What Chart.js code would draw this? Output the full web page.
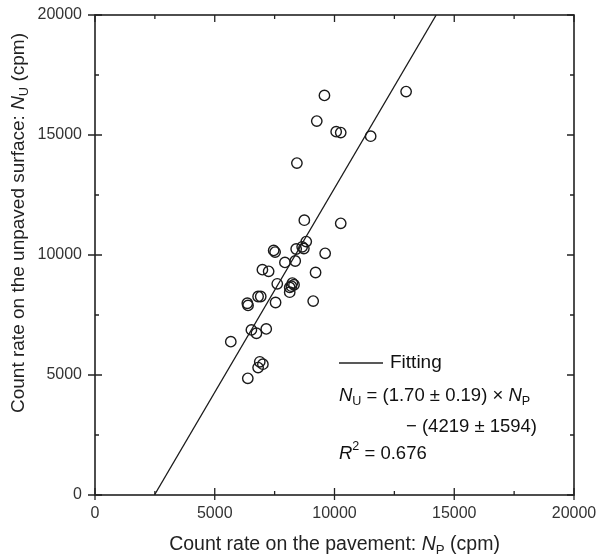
<!DOCTYPE html>
<html>
<head>
<meta charset="utf-8">
<script src="https://cdn.jsdelivr.net/npm/chart.js@4.4.1/dist/chart.umd.min.js"></script>
<style>
  html, body { margin: 0; padding: 0; background: #fff; }
  #wrap { width: 598px; height: 558px; }
</style>
</head>
<body>
<div id="wrap"><canvas id="chart" width="598" height="558"></canvas></div>
<script>
// Mediciones: tasa de conteo en pavimento (x) y en superficie sin pavimentar (y), cpm
const pavimento = [
    9580, 12990, 9260, 10070, 10260, 11510, 8430, 8740, 10260,
    8820, 8650, 8400, 8720, 7460, 7520, 9610, 7930, 8360,
    6990, 7250, 9210, 7610, 8240, 8310, 8130, 8130, 8200,
    6810, 6920, 6360, 6390, 7540, 9110, 6530, 6740, 7150,
    5670, 6880, 7010, 6810, 6380
];
const sinPavimentar = [
    16650, 16810, 15580, 15140, 15100, 14950, 13830, 11450, 11320,
    10560, 10340, 10250, 10270, 10190, 10120, 10070, 9690, 9750,
    9390, 9320, 9270, 8800, 8830, 8760, 8650, 8450, 8700,
    8270, 8270, 7990, 7900, 8020, 8080, 6880, 6740, 6920,
    6390, 5550, 5450, 5310, 4860
];

// Recta de ajuste: N_U = pendiente * N_P - intercepto
const pendiente = 1.70;
const intercepto = 4219;
const ejeMin = 0;
const ejeMax = 20000;
const pasoMayor = 5000;
const pasoMenor = 2500;

const FONT = '"Liberation Sans", Arial, Helvetica, sans-serif';

const puntos = pavimento.map((x, i) => ({ x: x, y: sinPavimentar[i] }));
const recta = [
    { x: (ejeMin + intercepto) / pendiente, y: ejeMin },
    { x: (ejeMax + intercepto) / pendiente, y: ejeMax }
];

// Dibuja una secuencia de fragmentos (cursiva, subíndice, superíndice)
function dibujarTexto(ctx, partes, x, y, size, align) {
    const fuente = (p, s) => (p.italic ? 'italic ' : '') + s + 'px ' + FONT;
    let total = 0;
    partes.forEach(p => {
        const s = (p.sub || p.sup) ? size * 0.68 : size;
        ctx.font = fuente(p, s);
        p._w = ctx.measureText(p.t).width;
        total += p._w;
    });
    let cx = align === 'center' ? x - total / 2 : x;
    partes.forEach(p => {
        const s = (p.sub || p.sup) ? size * 0.68 : size;
        ctx.font = fuente(p, s);
        let dy = 0;
        if (p.sub) dy = size * 0.28;
        if (p.sup) dy = -size * 0.38;
        ctx.fillText(p.t, cx, y + dy);
        cx += p._w;
    });
}

const marcoYTextos = {
    id: 'marcoYTextos',
    afterDraw(chart) {
        const ctx = chart.ctx;
        const { left, right, top, bottom } = chart.chartArea;
        const sx = chart.scales.x;
        const sy = chart.scales.y;

        ctx.save();
        ctx.strokeStyle = '#222';
        ctx.lineWidth = 1.6;
        ctx.strokeRect(left, top, right - left, bottom - top);

        ctx.lineWidth = 1.3;
        ctx.beginPath();
        for (let v = ejeMin; v <= ejeMax; v += pasoMenor) {
            const mayor = v % pasoMayor === 0;
            const px = sx.getPixelForValue(v);
            const py = sy.getPixelForValue(v);
            // eje inferior y superior
            ctx.moveTo(px, bottom + (mayor ? 5 : 0));
            ctx.lineTo(px, bottom - (mayor ? 7 : 4));
            ctx.moveTo(px, top);
            ctx.lineTo(px, top + (mayor ? 7 : 4));
            // eje izquierdo y derecho
            ctx.moveTo(left - (mayor ? 7 : 0), py);
            ctx.lineTo(left + (mayor ? 7 : 4), py);
            ctx.moveTo(right, py);
            ctx.lineTo(right - (mayor ? 7 : 4), py);
        }
        ctx.stroke();

        // Títulos de los ejes
        ctx.fillStyle = '#222';
        ctx.textBaseline = 'middle';
        ctx.textAlign = 'left';
        dibujarTexto(ctx, [
            { t: 'Count rate on the pavement: ' },
            { t: 'N', italic: true },
            { t: 'P', sub: true },
            { t: ' (cpm)' }
        ], (left + right) / 2, 545, 19.5, 'center');

        ctx.save();
        ctx.translate(19, 223);
        ctx.rotate(-Math.PI / 2);
        dibujarTexto(ctx, [
            { t: 'Count rate on the unpaved surface: ' },
            { t: 'N', italic: true },
            { t: 'U', sub: true },
            { t: ' (cpm)' }
        ], 0, 0, 19, 'center');
        ctx.restore();

        // Leyenda y ecuación del ajuste
        ctx.fillStyle = '#111';
        ctx.lineWidth = 1.3;
        ctx.beginPath();
        ctx.moveTo(339, 363);
        ctx.lineTo(383, 363);
        ctx.stroke();
        dibujarTexto(ctx, [{ t: 'Fitting' }], 390, 363, 19, 'left');
        dibujarTexto(ctx, [
            { t: 'N', italic: true },
            { t: 'U', sub: true },
            { t: ' = (' + pendiente.toFixed(2) + ' \u00b1 0.19) \u00d7 ' },
            { t: 'N', italic: true },
            { t: 'P', sub: true }
        ], 339, 396, 18.5, 'left');
        dibujarTexto(ctx, [{ t: '\u2212 (' + intercepto + ' \u00b1 1594)' }], 406, 427, 18.5, 'left');
        dibujarTexto(ctx, [
            { t: 'R', italic: true },
            { t: '2', sup: true },
            { t: ' = 0.676' }
        ], 339, 454, 18.5, 'left');
        ctx.restore();
    }
};

const ctx = document.getElementById('chart').getContext('2d');
new Chart(ctx, {
    type: 'scatter',
    data: {
        datasets: [
            {
                label: 'Datos',
                data: puntos,
                pointStyle: 'circle',
                pointRadius: 5.2,
                pointHoverRadius: 5.2,
                pointBorderWidth: 1.4,
                pointBorderColor: '#1a1a1a',
                pointBackgroundColor: 'rgba(0,0,0,0)'
            },
            {
                label: 'Fitting',
                type: 'line',
                data: recta,
                borderColor: '#1a1a1a',
                borderWidth: 1.3,
                pointRadius: 0,
                fill: false
            }
        ]
    },
    options: {
        responsive: false,
        animation: false,
        events: [],
        layout: { padding: { left: 0, top: 15, right: 24, bottom: 0 } },
        plugins: {
            legend: { display: false },
            tooltip: { enabled: false }
        },
        scales: {
            x: {
                type: 'linear',
                min: ejeMin,
                max: ejeMax,
                grid: { display: false, drawTicks: false },
                border: { display: false },
                ticks: {
                    stepSize: pasoMayor,
                    padding: 9,
                    color: '#333',
                    font: { family: FONT, size: 16 },
                    maxRotation: 0,
                    callback: (v) => String(v)
                },
                afterFit: (s) => {
                    s.height = 63;
                    s.paddingLeft = 0;
                    s.paddingRight = 0;
                }
            },
            y: {
                type: 'linear',
                min: ejeMin,
                max: ejeMax,
                grid: { display: false, drawTicks: false },
                border: { display: false },
                ticks: {
                    stepSize: pasoMayor,
                    padding: 13,
                    color: '#333',
                    font: { family: FONT, size: 16 },
                    callback: (v) => String(v)
                },
                afterFit: (s) => {
                    s.width = 95;
                    s.paddingTop = 0;
                    s.paddingBottom = 0;
                }
            }
        }
    },
    plugins: [marcoYTextos]
});
</script>
</body>
</html>
